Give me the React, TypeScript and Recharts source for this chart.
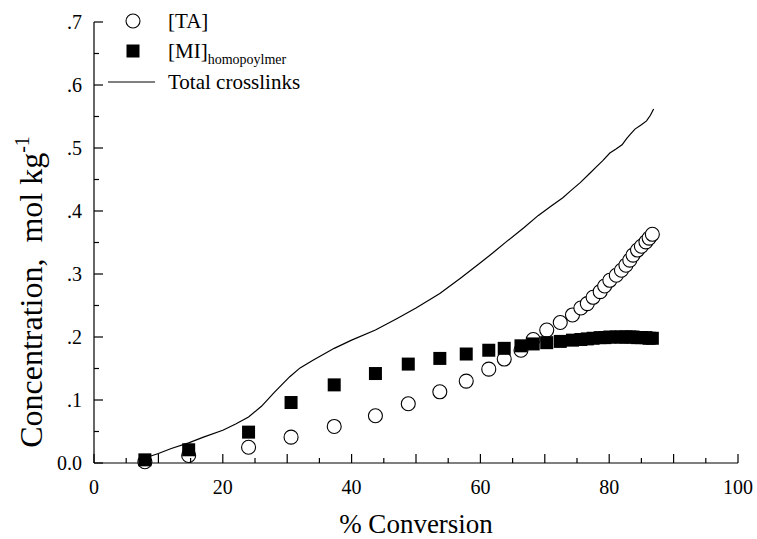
import React from 'react';
import { ScatterChart, Scatter, XAxis, YAxis } from 'recharts';

// % conversion for the two measured species
const conversion = [
  7.9, 14.7, 24.0, 30.6, 37.3, 43.7, 48.8, 53.7, 57.8, 61.3, 63.7, 66.3, 68.2, 70.3, 72.4, 74.3,
  75.6, 76.6, 77.5, 78.6, 79.3, 80.1, 81.1, 81.9, 82.6, 83.2, 83.7, 84.4, 85.0, 85.7, 86.2, 86.7,
];
const taValues = [
  0.002, 0.012, 0.025, 0.041, 0.058, 0.075, 0.094, 0.113, 0.13, 0.149, 0.165, 0.179, 0.196, 0.211,
  0.223, 0.235, 0.246, 0.253, 0.263, 0.272, 0.281, 0.29, 0.298, 0.306, 0.314, 0.322, 0.33, 0.338,
  0.344, 0.351, 0.357, 0.363,
];
const miValues = [
  0.005, 0.021, 0.049, 0.096, 0.124, 0.142, 0.157, 0.166, 0.173, 0.179, 0.182, 0.186, 0.189, 0.191,
  0.193, 0.195, 0.196, 0.197, 0.198, 0.199, 0.199, 0.2, 0.2, 0.2, 0.2, 0.2, 0.2, 0.199, 0.199,
  0.199, 0.198, 0.198,
];

// total crosslinks curve
const totalConversion = [
  7.9, 10, 12, 14.7, 17, 20, 22, 24, 26, 28, 30.4, 32, 34, 37.3, 40, 43.7, 47, 50, 53.7, 57, 59.9,
  62, 64, 66.7, 69, 71, 72.8, 74, 75.5, 77, 78, 79, 80.1, 81, 82, 82.7, 83.3, 84, 85, 85.8, 86.4, 86.9,
];
const totalValues = [
  0.008, 0.015, 0.023, 0.032, 0.041, 0.052, 0.062, 0.073, 0.09, 0.112, 0.137, 0.151, 0.163, 0.182,
  0.195, 0.211, 0.229, 0.246, 0.269, 0.294, 0.317, 0.334, 0.351, 0.373, 0.393, 0.408, 0.421, 0.432,
  0.445, 0.46, 0.47, 0.48, 0.492, 0.498, 0.505, 0.515, 0.522, 0.53, 0.537, 0.543, 0.552, 0.562,
];

const xTicks = [0, 5, 10, 15, 20, 25, 30, 35, 40, 45, 50, 55, 60, 65, 70, 75, 80, 85, 90, 95, 100];
const xTickLabels = ['0', '20', '40', '60', '80', '100'];
const yTicks = [0, 0.05, 0.1, 0.15, 0.2, 0.25, 0.3, 0.35, 0.4, 0.45, 0.5, 0.55, 0.6, 0.65, 0.7];
const yTickLabels = ['0.0', '.1', '.2', '.3', '.4', '.5', '.6', '.7'];

const taData = conversion.map((x, i) => ({ x, y: taValues[i] }));
const miData = conversion.map((x, i) => ({ x, y: miValues[i] }));
const totalData = totalConversion.map((x, i) => ({ x, y: totalValues[i] }));

const FONT = '"Liberation Serif", "Times New Roman", serif';

const XTick = (props: any) => {
  const { x, y, payload } = props;
  const v = payload.value;
  const major = v % 10 === 0;
  const label = v % 20 === 0 ? xTickLabels[v / 20] : null;
  return (
    <g>
      <line x1={x} x2={x} y1={y} y2={y - (major ? 9 : 5)} stroke="#000" strokeWidth={1.2} />
      {label && (
        <text x={x} y={y + 31} textAnchor="middle" fontSize={20} fontFamily={FONT} fill="#000">
          {label}
        </text>
      )}
    </g>
  );
};

const YTick = (props: any) => {
  const { x, y, payload } = props;
  const k = Math.round(payload.value * 20);
  const major = k % 2 === 0;
  return (
    <g>
      <line x1={x} x2={x + (major ? 9 : 5)} y1={y} y2={y} stroke="#000" strokeWidth={1.2} />
      {major && (
        <text x={x - 12} y={y + 7} textAnchor="end" fontSize={20} fontFamily={FONT} fill="#000">
          {yTickLabels[k / 2]}
        </text>
      )}
    </g>
  );
};

const Circle = (props: any) => (
  <circle cx={props.cx} cy={props.cy} r={7} fill="#fff" stroke="#000" strokeWidth={1.1} />
);
const Square = (props: any) => (
  <rect x={props.cx - 6.5} y={props.cy - 6.5} width={13} height={13} fill="#000" />
);
const NoDot = () => <g />;

const LegendBox = () => (
  <svg
    width={240}
    height={100}
    style={{ position: 'absolute', left: 100, top: 0, fontFamily: FONT }}
  >
    <circle cx={33} cy={21} r={7} fill="#fff" stroke="#000" strokeWidth={1.1} />
    <text x={68} y={28} fontSize={21}>[TA]</text>
    <rect x={26.5} y={44.5} width={13} height={13} fill="#000" />
    <text x={68} y={58} fontSize={21}>
      [MI]<tspan fontSize={14} dy={6}>homopoylmer</tspan>
    </text>
    <line x1={8} x2={55} y1={82} y2={82} stroke="#000" strokeWidth={1} />
    <text x={68} y={89} fontSize={21}>Total crosslinks</text>
  </svg>
);

const YLabel = () => (
  <text
    transform="translate(42, 292) rotate(-90)"
    textAnchor="middle"
    fontSize={32}
    fontFamily={FONT}
    fill="#000"
    style={{ whiteSpace: 'pre' }}
  >
    Concentration,  mol kg<tspan fontSize={20} dy={-13}>-1</tspan>
  </text>
);

const XLabel = () => (
  <text x={416} y={533} textAnchor="middle" fontSize={27} fontFamily={FONT} fill="#000">
    % Conversion
  </text>
);

export default function App() {
  return (
    <div style={{ position: 'absolute', left: 0, top: 0, width: 757, height: 539, background: '#fff' }}>
      <ScatterChart
        width={757}
        height={539}
        margin={{ top: 22, right: 19, bottom: 16, left: 0 }}
        style={{ fontFamily: FONT }}
      >
        <XAxis
          type="number"
          dataKey="x"
          domain={[0, 100]}
          ticks={xTicks}
          tick={<XTick />}
          tickSize={0}
          tickMargin={0}
          tickLine={false}
          height={60}
          axisLine={{ stroke: '#000', strokeWidth: 1.2 }}
          interval={0}
          label={<XLabel />}
        />
        <YAxis
          type="number"
          dataKey="y"
          domain={[0, 0.7]}
          ticks={yTicks}
          tick={<YTick />}
          tickSize={0}
          tickMargin={0}
          tickLine={false}
          width={94}
          axisLine={{ stroke: '#000', strokeWidth: 1.2 }}
          interval={0}
          label={<YLabel />}
        />
        <Scatter
          name="Total crosslinks"
          data={totalData}
          line={{ stroke: '#000', strokeWidth: 1.2 }}
          shape={<NoDot />}
          isAnimationActive={false}
        />
        <Scatter name="[TA]" data={taData} shape={<Circle />} isAnimationActive={false} />
        <Scatter name="[MI]" data={miData} shape={<Square />} isAnimationActive={false} />
      </ScatterChart>
      <LegendBox />
    </div>
  );
}
